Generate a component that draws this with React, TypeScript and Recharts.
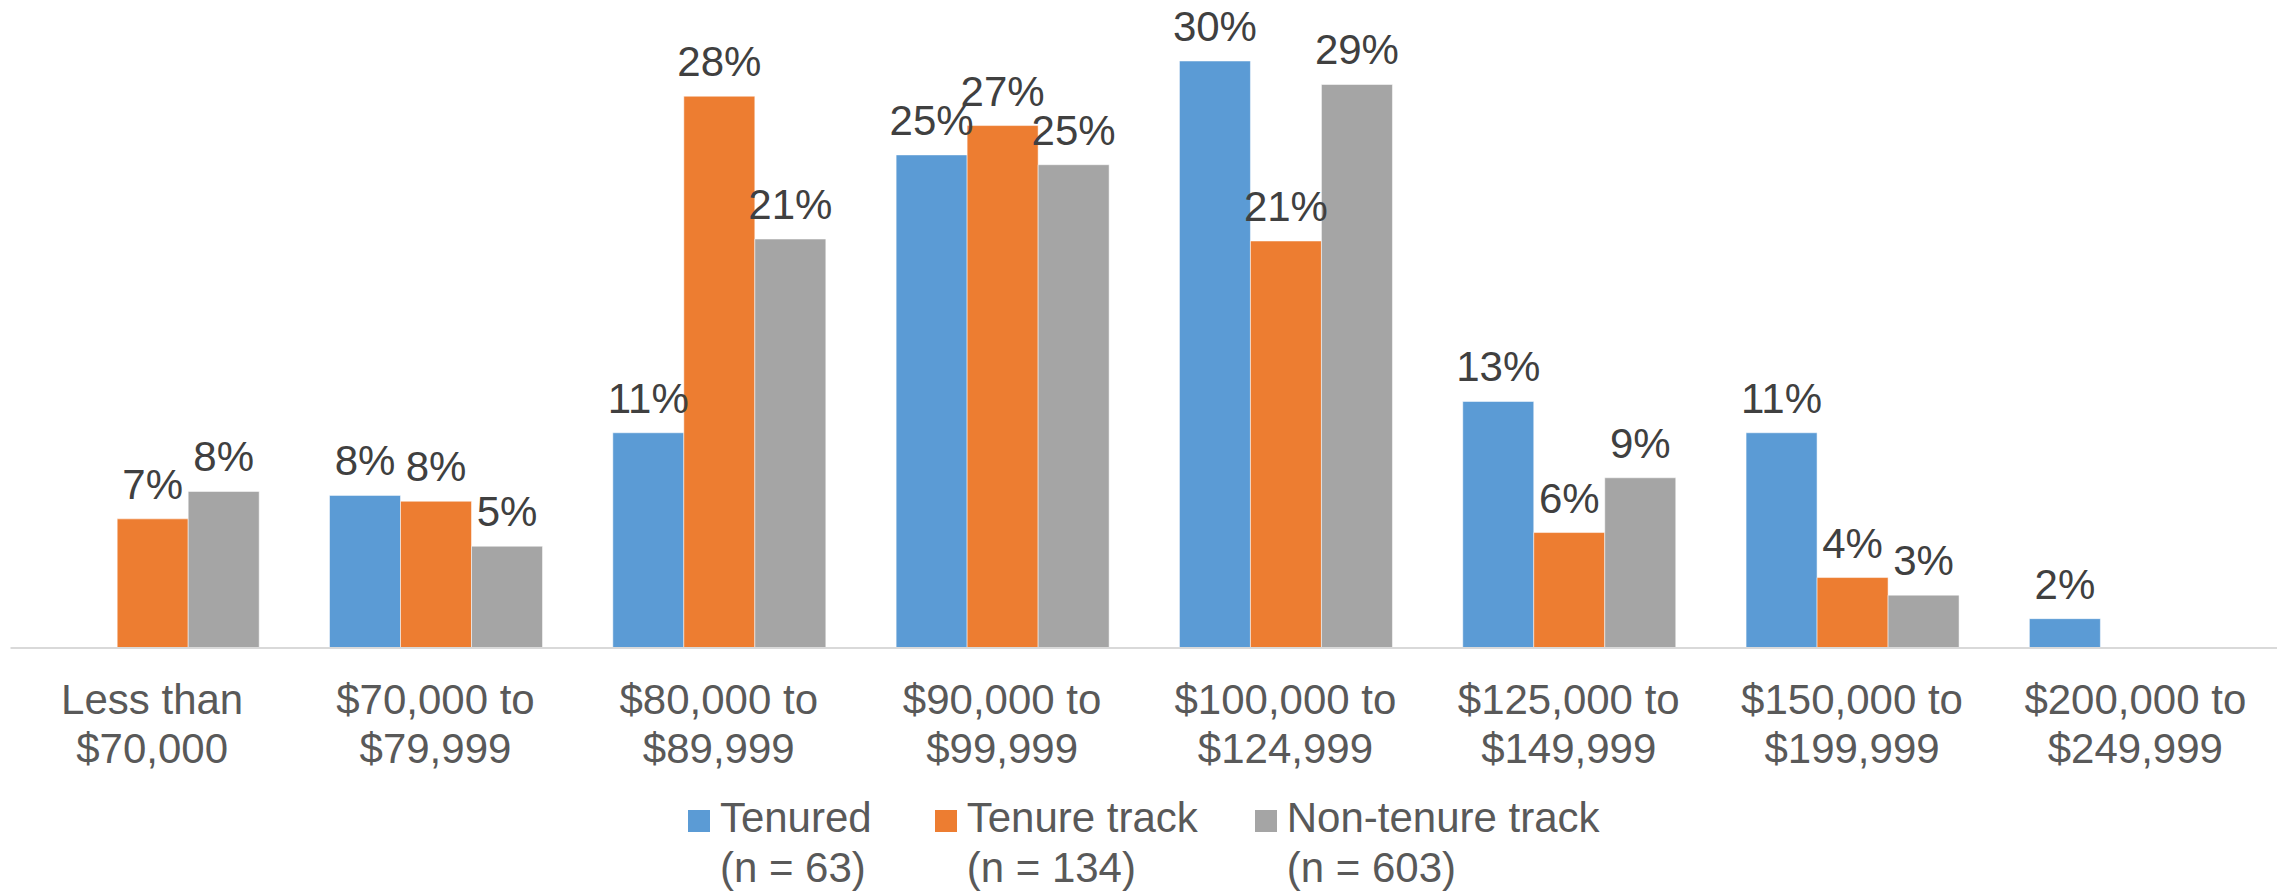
import { BarChart, Bar, XAxis, YAxis, Legend, LabelList } from 'recharts';

const categories = [
  'Less than $70,000',
  '$70,000 to $79,999',
  '$80,000 to $89,999',
  '$90,000 to $99,999',
  '$100,000 to $124,999',
  '$125,000 to $149,999',
  '$150,000 to $199,999',
  '$200,000 to $249,999',
];

const tenured = [null, 7.8, 11.0, 25.2, 30.0, 12.6, 11.0, 1.5];
const tenureTrack = [6.6, 7.5, 28.2, 26.7, 20.8, 5.9, 3.6, null];
const nonTenureTrack = [8.0, 5.2, 20.9, 24.7, 28.8, 8.7, 2.7, null];

const seriesNames = ['Tenured', 'Tenure track', 'Non-tenure track'];
const seriesCounts = ['(n = 63)', '(n = 134)', '(n = 603)'];
const seriesKeys = ['tenured', 'tenureTrack', 'nonTenureTrack'];
const colors = ['#5B9BD5', '#ED7D31', '#A5A5A5'];

const data = categories.map((name, i) => ({
  name,
  tenured: tenured[i],
  tenureTrack: tenureTrack[i],
  nonTenureTrack: nonTenureTrack[i],
}));

const FONT = '"Liberation Sans", Arial, sans-serif';
const legendGaps = [63, 57, 0];

function CategoryTick({ x, y, payload }: any) {
  const s: string = payload.value;
  const cut = s.lastIndexOf(' ');
  return (
    <text x={x} y={y} textAnchor="middle" fill="#595959" fontSize={42} fontFamily={FONT}>
      <tspan x={x} dy={66}>{s.slice(0, cut)}</tspan>
      <tspan x={x} dy={49}>{s.slice(cut + 1)}</tspan>
    </text>
  );
}

function LegendBox() {
  return (
    <div style={styles.legend}>
      {seriesNames.map((name, i) => (
        <div key={name} style={{ display: 'flex', alignItems: 'flex-start', marginRight: legendGaps[i] }}>
          <span style={{ ...styles.swatch, background: colors[i] }} />
          <div>
            {name}
            <br />
            {seriesCounts[i]}
          </div>
        </div>
      ))}
    </div>
  );
}

const fmt = (v: any) => (v == null ? '' : `${Math.round(v)}%`);

export default function App() {
  return (
    <div style={{ position: 'absolute', left: 0, top: 0, width: 2282, height: 892, background: '#fff' }}>
      <BarChart
        width={2282}
        height={892}
        data={data}
        margin={{ top: 61, right: 5, left: 10.5, bottom: 0 }}
        barCategoryGap="12.6%"
        barGap={0}
      >
        <XAxis
          dataKey="name"
          height={145}
          tickSize={0}
          tickMargin={0}
          tickLine={false}
          axisLine={{ stroke: '#d9d9d9', strokeWidth: 2 }}
          tick={<CategoryTick />}
          interval={0}
        />
        <YAxis hide domain={[0, 30]} />
        <Legend verticalAlign="bottom" content={<LegendBox />} />
        {seriesKeys.map((k, i) => (
          <Bar
            key={k}
            dataKey={k}
            name={seriesNames[i]}
            fill={colors[i]}
            stroke="#ffffff"
            strokeOpacity={0.5}
            strokeWidth={1}
            isAnimationActive={false}
          >
            <LabelList
              dataKey={k}
              position="top"
              offset={20}
              formatter={fmt}
              fill="#404040"
              fontSize={42}
              fontFamily={FONT}
            />
          </Bar>
        ))}
      </BarChart>
    </div>
  );
}

const styles: Record<string, React.CSSProperties> = {
  legend: {
    display: 'flex',
    justifyContent: 'center',
    height: 99,
    fontFamily: FONT,
    fontSize: 42,
    lineHeight: '50px',
    color: '#595959',
  },
  swatch: { display: 'inline-block', width: 22, height: 22, marginTop: 17, marginRight: 10, flexShrink: 0 },
};
